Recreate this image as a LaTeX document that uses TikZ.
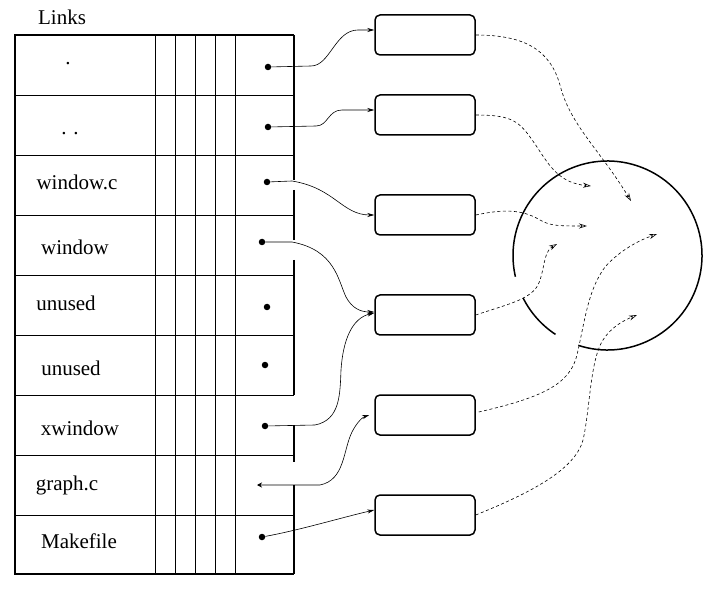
\documentclass[tikz,border=0pt]{standalone}
\usepackage{fontspec}
\setmainfont{Liberation Serif}
\usetikzlibrary{arrows.meta,calc}
\begin{document}
\begin{tikzpicture}[x=1pt,y=-1pt,
  lbl/.style={anchor=base, inner sep=0pt, font=\fontsize{21}{25}\selectfont},
  fbox/.style={draw, line width=1.5pt, rounded corners=5pt, minimum width=100pt, minimum height=40pt, inner sep=0pt},
  dotpt/.style={circle, fill, inner sep=0pt, minimum size=6.5pt},
  thin line/.style={line width=0.7pt},
  thick line/.style={line width=1.6pt},
  link/.style={line width=0.6pt, -{Stealth[length=7pt,width=4pt]}},
  ref/.style={line width=0.6pt, dash pattern=on 3pt off 2.5pt, -{Stealth[open,length=8pt,width=5pt]}},
  circ/.style={line width=1.5pt}
]
\useasboundingbox (0,0) rectangle (716,591);
% table
\draw[thick line] (294,35) -- (15,35) -- (15,574) -- (294,574);
\foreach \y in {95,155,215,275,335,395,455,515} \draw[thin line] (15,\y) -- (294,\y);
\foreach \x in {155,175,195,215,235} \draw[thin line] (\x,35) -- (\x,574);
\draw[thick line] (294,35) -- (294,180);
\draw[thick line] (294,190) -- (294,240);
\draw[thick line] (294,260) -- (294,395);
\draw[thick line] (294,425) -- (294,462);
\draw[thick line] (294,485) -- (294,574);
% labels
\node[lbl] (links) at (62,25) {Links};
\node[lbl] (t1) at (68,65) {.};
\node[lbl] (t2) at (70,135) {.\,\,.};
\node[lbl] (t3) at (77,190) {window.c};
\node[lbl] (t4) at (75,255) {window};
\node[lbl] (t5) at (66,310) {unused};
\node[lbl] (t6) at (71,375) {unused};
\node[lbl] (t7) at (80,435) {xwindow};
\node[lbl] (t8) at (67,490) {graph.c};
\node[lbl] (t9) at (79,548) {Makefile};
% dots
\node[dotpt] (d1) at (268,67) {};
\node[dotpt] (d2) at (268,127) {};
\node[dotpt] (d3) at (267,182) {};
\node[dotpt] (d4) at (262,242) {};
\node[dotpt] (d5) at (267,307) {};
\node[dotpt] (d6) at (265,365) {};
\node[dotpt] (d7) at (265,426) {};
\coordinate (d8) at (257,485);
\node[dotpt] (d9) at (262,537) {};
% boxes
\node[fbox] (b1) at (425,35) {};
\node[fbox] (b2) at (425,115) {};
\node[fbox] (b3) at (425,215) {};
\node[fbox] (b4) at (425,315) {};
\node[fbox] (b5) at (425,415) {};
\node[fbox] (b6) at (425,515) {};
% circle
\coordinate (ctr) at (607.5,255.5);
\draw[circ] ($(ctr)+(-252:94.5)$) arc[start angle=-252, end angle=-553, radius=94.5];
\draw[circ] ($(ctr)+(-206.7:94.5)$) arc[start angle=-206.7, end angle=-236.6, radius=94.5];
\coordinate (c1) at (631,201);
\coordinate (c2) at (591,186);
\coordinate (c3) at (587,226);
\coordinate (c4) at (557,244);
\coordinate (c5) at (657,234);
\coordinate (c6) at (637,315);
% solid links
\draw[link] (d1) -- (311,66) .. controls (330,66) and (335,30) .. (358,30) -- ($(b1.west)+(0,-5)$);
\draw[link] (d2) -- (316,126) .. controls (328,126) and (328,110) .. (342,110) -- ($(b2.west)+(0,-5)$);
\draw[link] (d3) -- (292,181) .. controls (335,188) and (342,215) .. (b3.west);
\draw[link] (d4) -- (292,242) .. controls (335,250) and (338,280) .. (346,297) .. controls (352,308) and (360,312) .. ($(b4.west)+(0,-3)$);
\draw[link] (d7) -- (315,425) .. controls (340,420) and (340,395) .. (341,370) .. controls (343,340) and (352,318) .. ($(b4.west)+(0,-2)$);
\draw[link,{Stealth[length=5pt,width=5pt]}-{Stealth[length=7pt,width=4pt]}] (d8) -- (320,485) .. controls (345,480) and (343,450) .. (352,432) .. controls (357,422) and (363,417) .. ($(b5.west)+(-5,0)$);
\draw[link] (d9) .. controls (300,530) and (340,518) .. ($(b6.west)+(0,-5)$);
% dashed refs
\draw[ref] (b1.east) .. controls (525,35) and (550,50) .. (560,85) .. controls (570,125) and (600,150) .. (c1);
\draw[ref] (b2.east) .. controls (515,115) and (520,122) .. (537,147) .. controls (550,167) and (560,183) .. (c2);
\draw[ref] (b3.east) .. controls (500,210) and (520,208) .. (540,220) .. controls (550,226) and (560,226) .. (c3);
\draw[ref] (b4.east) .. controls (505,305) and (530,300) .. (538,285) .. controls (545,270) and (543,252) .. (c4);
\draw[ref] ($(b5.east)+(3,-3)$) .. controls (540,398) and (570,385) .. (577,355) .. controls (585,320) and (588,290) .. (605,267) .. controls (620,250) and (640,240) .. (c5);
\draw[ref] (b6.east) .. controls (530,493) and (575,470) .. (583,440) .. controls (590,410) and (590,360) .. (603,340) .. controls (612,326) and (625,320) .. (c6);
\end{tikzpicture}
\end{document}
